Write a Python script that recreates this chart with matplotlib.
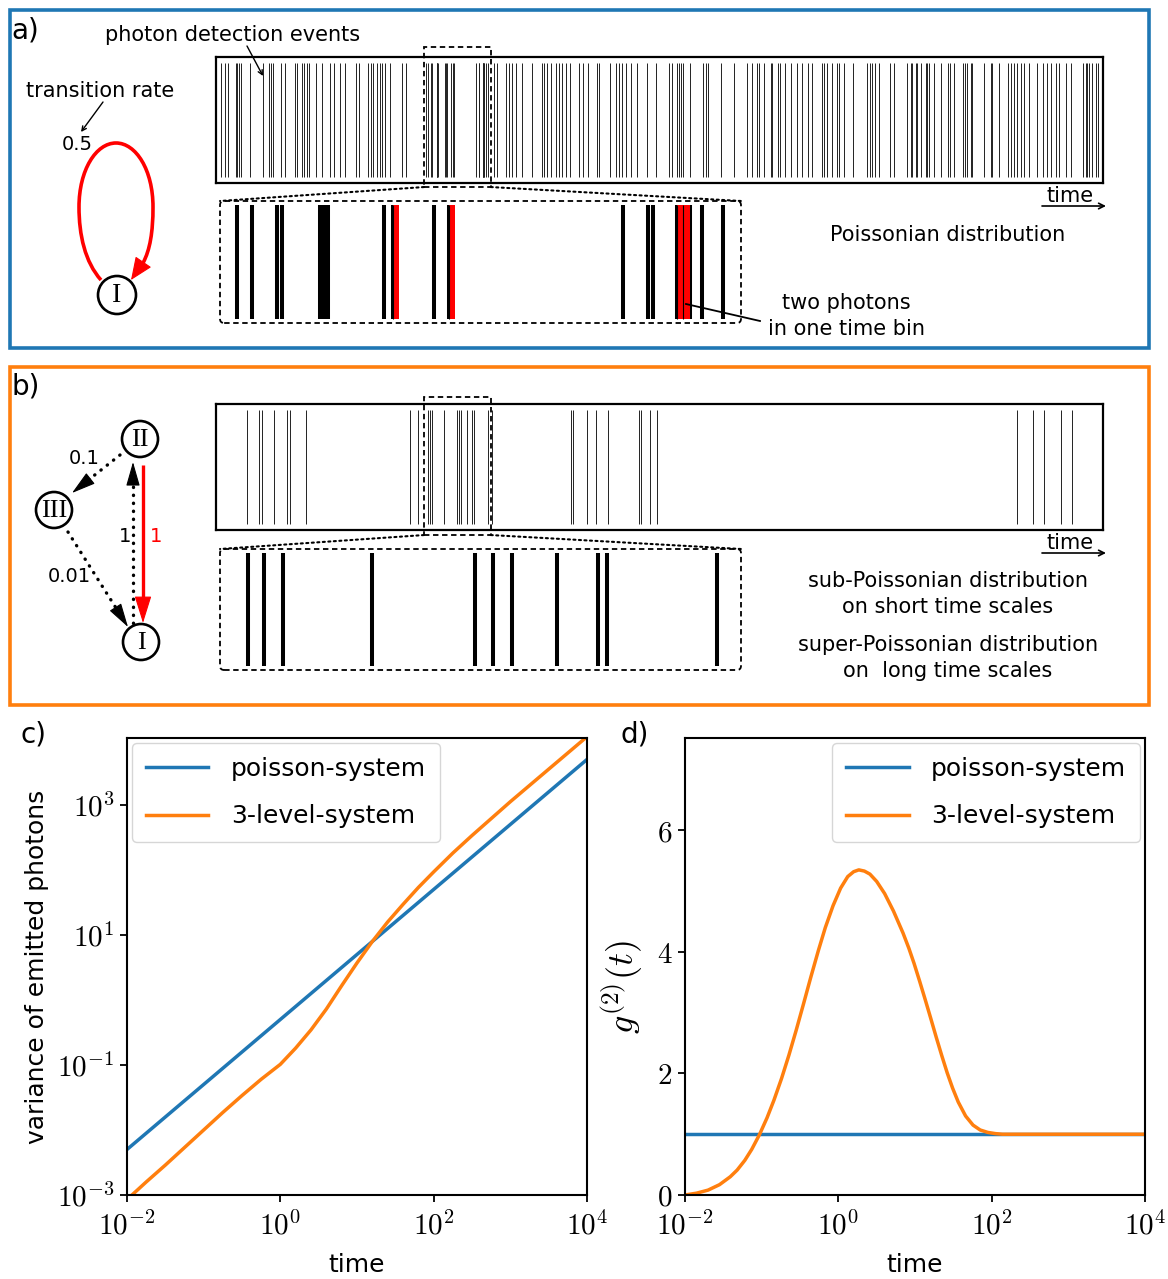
import numpy as np
import matplotlib
matplotlib.use('Agg')
import matplotlib.pyplot as plt
from matplotlib.patches import Rectangle, Circle, FancyArrowPatch, FancyBboxPatch, ConnectionPatch, ArrowStyle, PathPatch
from matplotlib.path import Path
from matplotlib.ticker import NullLocator

plt.rcParams['font.family'] = ['DejaVu Sans']
plt.rcParams['mathtext.fontset'] = 'cm'

# ---------------- data ----------------
raster_range = (0, 100)          # time axis of the photon-event rasters
zoom_window = (23.45, 30.97)     # region shown enlarged

# panel a: Poisson emitter, detection times
events_a = [0.60, 1.01, 1.35, 2.22, 2.40, 2.59, 2.78, 3.83, 5.33, 5.98, 6.23, 6.46, 7.36, 7.78,
            8.91, 9.10, 9.73, 9.92, 10.29, 10.48, 11.24, 11.98, 12.85, 13.30, 13.98, 14.54,
            15.75, 16.12, 17.17, 17.44, 17.70, 18.19, 18.46, 18.75, 19.02, 19.62, 21.00, 21.39,
            23.69, 23.91, 24.27, 24.34, 24.89, 24.93, 24.97, 25.01, 25.81, 25.94, 25.99, 26.54,
            26.75, 26.80, 29.27, 29.63, 29.70, 30.05, 30.09, 30.14, 30.18, 30.23, 30.41, 30.71,
            31.34, 31.71, 32.66, 33.03, 33.40, 33.79, 34.53, 35.66, 36.79, 36.98, 37.35, 37.73,
            38.30, 38.67, 39.04, 39.42, 39.91, 40.92, 41.41, 41.94, 42.99, 43.18, 44.42, 45.06,
            45.43, 45.81, 46.19, 46.75, 47.50, 48.62, 49.57, 51.07, 51.44, 52.01, 52.20, 52.39,
            52.68, 53.44, 54.94, 55.21, 55.47, 56.90, 58.40, 59.90, 60.46, 60.96, 61.22, 61.78,
            62.54, 62.72, 63.36, 63.59, 64.11, 64.79, 65.47, 66.10, 66.74, 67.23, 68.35, 68.55,
            68.92, 69.48, 69.98, 70.24, 70.80, 71.85, 73.43, 73.73, 73.99, 74.26, 74.75, 75.99,
            76.44, 77.94, 78.32, 78.50, 78.88, 79.06, 79.45, 80.01, 80.19, 80.38, 80.95, 81.70,
            82.53, 82.75, 83.20, 84.25, 84.41, 84.63, 85.09, 85.27, 86.58, 87.34, 87.52, 88.28,
            89.29, 89.59, 89.97, 90.34, 90.72, 91.09, 91.66, 92.53, 93.27, 93.72, 94.10, 94.67,
            95.04, 95.80, 96.36, 97.78, 98.05, 98.23, 98.42, 98.79, 99.18, 99.44]
double_bins_a = [25.94, 26.75, 30.05, 30.14]   # bins holding two photons
bin_width = 0.09

# panel b: 3-level emitter, detection times
events_b = [3.53, 4.83, 5.15, 6.57, 8.06, 8.39, 10.19, 21.85, 22.75, 23.86, 24.08, 24.36,
            25.65, 27.13, 27.39, 27.66, 28.31, 28.91, 29.04, 30.63, 31.16, 39.97, 40.23,
            41.85, 42.87, 44.17, 47.73, 47.92, 48.90, 49.74, 90.32, 92.06, 93.36, 95.30, 96.53]

# panel c: variance of emitted photons vs time (log10 values)
c_log_t_poisson = [-2.0, -1.0, 0.0, 1.0, 2.0, 3.0, 4.0]
c_log_var_poisson = [-2.30, -1.30, -0.30, 0.70, 1.70, 2.70, 3.70]
c_log_t_3level = [-2.00, -1.75, -1.50, -1.25, -1.00, -0.75, -0.50, -0.25, 0.00, 0.20, 0.40,
                  0.60, 0.80, 1.00, 1.20, 1.40, 1.60, 1.80, 2.00, 2.25, 2.50, 2.75, 3.00,
                  3.25, 3.50, 3.75, 4.00]
c_log_var_3level = [-3.07, -2.80, -2.54, -2.27, -2.00, -1.73, -1.47, -1.22, -0.99, -0.74,
                    -0.46, -0.14, 0.22, 0.57, 0.90, 1.20, 1.47, 1.73, 1.97, 2.26, 2.53,
                    2.79, 3.05, 3.30, 3.55, 3.80, 4.05]

# panel d: g2(t)
d_log_t_poisson = [-2.0, 4.0]
d_g2_poisson = [1.0, 1.0]
d_log_t_3level = [-2.00, -1.85, -1.70, -1.55, -1.41, -1.32, -1.22, -1.13, -1.03, -0.93,
                  -0.84, -0.74, -0.645, -0.55, -0.453, -0.36, -0.261, -0.17, -0.069, 0.03,
                  0.123, 0.20, 0.267, 0.34, 0.412, 0.50, 0.604, 0.72, 0.844, 0.92, 0.988,
                  1.06, 1.132, 1.20, 1.276, 1.35, 1.42, 1.49, 1.564, 1.66, 1.757, 1.85,
                  1.949, 2.05, 2.141, 4.00]
d_g2_3level = [0.0, 0.03, 0.08, 0.17, 0.30, 0.41, 0.57, 0.75, 0.99, 1.27, 1.56, 1.92,
               2.30, 2.71, 3.15, 3.58, 4.02, 4.40, 4.76, 5.05, 5.24, 5.32, 5.35, 5.33,
               5.28, 5.16, 4.96, 4.67, 4.31, 4.06, 3.81, 3.52, 3.22, 2.93, 2.60, 2.29,
               2.01, 1.76, 1.53, 1.30, 1.15, 1.07, 1.03, 1.01, 1.0, 1.0]

series_names = ['poisson-system', '3-level-system']
c_xticks = [1e-2, 1e0, 1e2, 1e4]
c_xticklabels = [r'$10^{-2}$', r'$10^{0}$', r'$10^{2}$', r'$10^{4}$']
c_yticks = [1e-3, 1e-1, 1e1, 1e3]
c_yticklabels = [r'$10^{-3}$', r'$10^{-1}$', r'$10^{1}$', r'$10^{3}$']
d_yticks = [0, 2, 4, 6]
d_yticklabels = [r'$0$', r'$2$', r'$4$', r'$6$']

# ---------------- figure ----------------
W, H = 1168, 1279
fig = plt.figure(figsize=(W / 100, H / 100), dpi=100)
fig.patch.set_facecolor('white')

def px_axes(x0, y0, x1, y1):
    return fig.add_axes([x0 / W, 1 - y1 / H, (x1 - x0) / W, (y1 - y0) / H])

ov = fig.add_axes([0, 0, 1, 1])
ov.set_xlim(0, W)
ov.set_ylim(H, 0)
ov.axis('off')
ov.set_zorder(10)
ov.patch.set_alpha(0)

BLUE, ORANGE = '#1f77b4', '#ff7f0e'
TXT = 15

# panel frames
ov.add_patch(Rectangle((10, 10), 1139, 338, fill=False, ec=BLUE, lw=2.6))
ov.add_patch(Rectangle((10, 367), 1139, 338, fill=False, ec=ORANGE, lw=2.6))
ov.text(11, 30, 'a)', fontsize=20, va='center', ha='left')
ov.text(11, 386, 'b)', fontsize=20, va='center', ha='left')
ov.text(21, 735, 'c)', fontsize=20, va='center', ha='left')
ov.text(621, 735, 'd)', fontsize=20, va='center', ha='left')

DASH = (0, (3, 2))

def raster(events, big_box, zoom_box, top_ext, bot_ext, doubles=None):
    ax = px_axes(*big_box)
    ax.set_xlim(*raster_range)
    ax.set_ylim(0, 1)
    ax.vlines(events, 0.05, 0.95, color='#222222', lw=0.7)
    ax.set_xticks([]); ax.set_yticks([])
    for s in ax.spines.values():
        s.set_linewidth(1.6)
    z0, z1 = zoom_window
    ax.add_patch(Rectangle((z0, -bot_ext), z1 - z0, 1 + bot_ext + top_ext, fill=False,
                           ls=DASH, lw=1.3, ec='k', clip_on=False, zorder=5))
    az = px_axes(*zoom_box)
    az.set_xlim(z0, z1)
    az.set_ylim(0, 1)
    az.vlines(events, 0.03, 0.97, color='k', lw=2.9, zorder=2)
    if doubles:
        for b in doubles:
            az.axvspan(b, b + bin_width, ymin=0.03, ymax=0.97, color='red', lw=0, zorder=3)
        az.vlines(doubles, 0.03, 0.97, color='k', lw=0.8, zorder=4)
    az.axis('off')
    wpx = zoom_box[2] - zoom_box[0]
    hpx = zoom_box[3] - zoom_box[1]
    az.add_patch(FancyBboxPatch((0, 0), 1, 1, boxstyle='round,pad=0,rounding_size=0.008',
                                mutation_aspect=wpx / hpx, transform=az.transAxes,
                                fill=False, ls=DASH, lw=1.3, ec='k', clip_on=False))
    for xa, xb in [(z0, 0), (z1, 1)]:
        con = ConnectionPatch(xyA=(xa, -bot_ext), coordsA=ax.transData,
                              xyB=(xb, 1), coordsB=az.transAxes,
                              ls=':', lw=1.5, color='k')
        fig.add_artist(con)
    return ax, az

raster(events_a, (216, 57, 1103, 183), (220, 201, 741, 323), 0.079, 0.032, double_bins_a)
raster(events_b, (216, 404, 1103, 530), (220, 549, 741, 670), 0.056, 0.04)

# time arrows
for y in (206, 553):
    ov.annotate('', xy=(1106, y), xytext=(1042, y),
                arrowprops=dict(arrowstyle='->', lw=1.2, color='k', shrinkA=0, shrinkB=0,
                                mutation_scale=10))
    ov.text(1070, y - 10, 'time', fontsize=TXT, ha='center', va='center')

# panel a texts
ov.text(233, 35, 'photon detection events', fontsize=TXT, ha='center', va='center')
ov.annotate('', xy=(263, 76), xytext=(247, 46),
            arrowprops=dict(arrowstyle='->', lw=1.0, color='k', shrinkA=0, shrinkB=0,
                            mutation_scale=8))
ov.text(100, 91, 'transition rate', fontsize=TXT, ha='center', va='center')
ov.annotate('', xy=(81, 132), xytext=(103, 102),
            arrowprops=dict(arrowstyle='->', lw=1.0, color='k', shrinkA=0, shrinkB=0,
                            mutation_scale=8))
ov.text(948, 235, 'Poissonian distribution', fontsize=TXT, ha='center', va='center')
ov.text(846, 303, 'two photons', fontsize=TXT, ha='center', va='center')
ov.text(846, 329, 'in one time bin', fontsize=TXT, ha='center', va='center')
ov.plot([686, 760], [304, 321], color='k', lw=1.3)

# panel b texts
ov.text(948, 581, 'sub-Poissonian distribution', fontsize=TXT, ha='center', va='center')
ov.text(948, 607, 'on short time scales', fontsize=TXT, ha='center', va='center')
ov.text(948, 645, 'super-Poissonian distribution', fontsize=TXT, ha='center', va='center')
ov.text(948, 671, 'on  long time scales', fontsize=TXT, ha='center', va='center')

# state diagrams
def state(c, label, r=18, fs=19):
    ov.add_patch(Circle(c, r, fc='white', ec='k', lw=1.9, zorder=6))
    ov.text(c[0], c[1] + 1, label, fontsize=fs, family='Liberation Serif',
            ha='center', va='center', zorder=7)

def head(base, tip, color, hl, hw):
    ov.add_patch(FancyArrowPatch(base, tip,
                                 arrowstyle=ArrowStyle('-|>', head_length=hl * 0.72,
                                                       head_width=hw * 0.36),
                                 mutation_scale=1, color=color, lw=0.8,
                                 shrinkA=0, shrinkB=0, zorder=8))

def arrow(p0, p1, color, ls, lw, hl, hw):
    p0 = np.asarray(p0, float); p1 = np.asarray(p1, float)
    d = (p1 - p0) / np.hypot(*(p1 - p0))
    base = p1 - d * hl
    ov.plot([p0[0], base[0]], [p0[1], base[1]], color=color, ls=ls, lw=lw,
            dash_capstyle='round', solid_capstyle='butt')
    head(tuple(base - d * 2), tuple(p1), color, hl, hw)

DOT = (0, (0.1, 2.3))
# panel a loop
loop_verts = [(101, 280), (85, 262), (79, 235), (79, 207),
              (79, 170), (96, 143), (116, 143),
              (136, 143), (153, 170), (153, 207),
              (153, 232), (150, 250), (143, 263)]
loop_codes = [Path.MOVETO] + [Path.CURVE4] * 12
ov.add_patch(PathPatch(Path(loop_verts, loop_codes), fill=False, ec='red', lw=2.6,
                       capstyle='butt'))
head((144, 261), (131, 280), 'red', 20, 17)
state((117, 295), 'I', r=19, fs=20)
ov.text(77, 145, '0.5', fontsize=14, ha='center', va='center')

# panel b diagram
state((140, 439), 'II')
state((54, 510), 'III')
state((141, 642), 'I')
arrow((143, 465), (143, 623), 'red', '-', 2.4, 24, 15)
arrow((133, 623), (133, 462), 'k', DOT, 2.4, 21, 12)
arrow((120, 455), (72, 493), 'k', DOT, 2.4, 21, 12)
arrow((68, 532), (128, 627), 'k', DOT, 2.4, 21, 12)
ov.text(84, 459, '0.1', fontsize=14, ha='center', va='center')
ov.text(69, 577, '0.01', fontsize=14, ha='center', va='center')
ov.text(125, 536, '1', fontsize=14, ha='center', va='center')
ov.text(156, 536, '1', fontsize=14, ha='center', va='center', color='red')

# ---------------- plots c and d ----------------
def style_plot(ax):
    for s in ax.spines.values():
        s.set_linewidth(1.5)
    ax.tick_params(which='major', length=5, width=1.3, labelsize=21, pad=4)
    ax.tick_params(axis='x', pad=7)

leg_kw = dict(fontsize=18, handlelength=2.5, handletextpad=0.9, borderaxespad=0.2,
              labelspacing=0.95, borderpad=0.55)

axc = px_axes(127, 738, 587, 1195)
axc.plot(10 ** np.array(c_log_t_poisson), 10 ** np.array(c_log_var_poisson),
         color=BLUE, lw=2.5, label=series_names[0])
axc.plot(10 ** np.array(c_log_t_3level), 10 ** np.array(c_log_var_3level),
         color=ORANGE, lw=2.5, label=series_names[1])
axc.set_xscale('log'); axc.set_yscale('log')
axc.set_xlim(1e-2, 1e4)
axc.set_ylim(1e-3, 10 ** 4.03)
style_plot(axc)
axc.set_xticks(c_xticks, labels=c_xticklabels)
axc.set_yticks(c_yticks, labels=c_yticklabels)
axc.xaxis.set_minor_locator(NullLocator()); axc.yaxis.set_minor_locator(NullLocator())
axc.set_xlabel('time', fontsize=18, labelpad=9)
axc.set_ylabel('variance of emitted photons', fontsize=18, labelpad=6)
axc.legend(loc='upper left', **leg_kw)

axd = px_axes(685, 738, 1145, 1195)
axd.plot(10 ** np.array(d_log_t_poisson), d_g2_poisson, color=BLUE, lw=2.5,
         label=series_names[0])
axd.plot(10 ** np.array(d_log_t_3level), d_g2_3level, color=ORANGE, lw=2.5,
         label=series_names[1])
axd.set_xscale('log')
axd.set_xlim(1e-2, 1e4)
axd.set_ylim(0, 7.52)
style_plot(axd)
axd.set_xticks(c_xticks, labels=c_xticklabels)
axd.set_yticks(d_yticks, labels=d_yticklabels)
axd.xaxis.set_minor_locator(NullLocator())
axd.set_xlabel('time', fontsize=18, labelpad=9)
axd.set_ylabel(r'$g^{(2)}(t)$', fontsize=26)
axd.yaxis.set_label_coords(-0.088, 0.455)
axd.legend(loc='upper right', **leg_kw)

fig.savefig('out.png', dpi=100, facecolor='white')
